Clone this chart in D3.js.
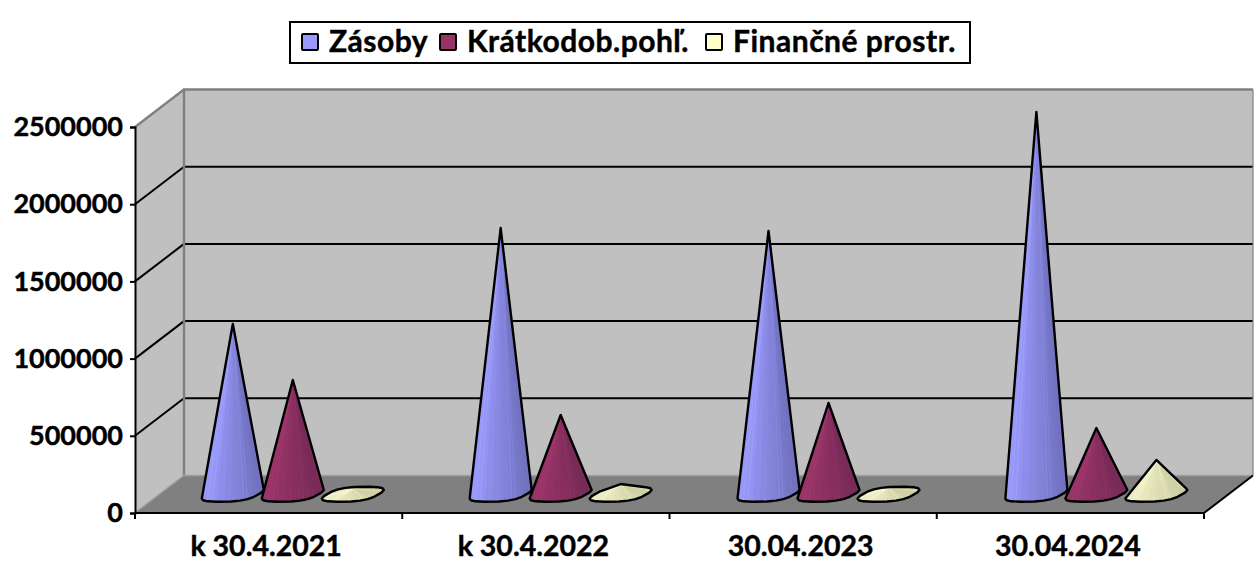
<!DOCTYPE html>
<html><head><meta charset="utf-8">
<script src="https://cdnjs.cloudflare.com/ajax/libs/d3/7.8.5/d3.min.js"></script>
<style>html,body{margin:0;padding:0;background:#fff}svg{display:block}text{font-family:Lato,"Open Sans",sans-serif;font-weight:700;fill:#000;stroke:#000;stroke-width:0.45px}</style>
</head><body><svg id="c" width="1258" height="563"></svg>
<script>
const categories=["k 30.4.2021","k 30.4.2022","30.04.2023","30.04.2024"];
const seriesNames=["Zásoby","Krátkodob.pohľ.","Finančné prostr."];
const zasoby=[1103000,1724000,1705000,2476000];
const kratkodob=[740000,513000,591000,429000];
const financne=[30000,66000,40000,222000];
const yTicks=[0,500000,1000000,1500000,2000000,2500000];
const seriesValues=[zasoby,kratkodob,financne];
const colors=[["#9c9cff","#6f6fbb"],["#9c3569","#752a55"],["#f2f2c8","#cdcda4"]];
const swatch=["#9999ff","#993366","#ffffcc"];

const L=135,R=1204,T=127,B=513,dx=49,dy=-37.5;
const svg=d3.select("#c");
const y=d3.scaleLinear().domain([0,2500000]).range([B,T]);
const x=d3.scaleBand().domain(categories).range([L,R]);
const poly=(g,pts,fill)=>g.append("polygon").attr("points",pts.map(p=>p.join(",")).join(" ")).attr("fill",fill);
const line=(g,a,b,c,w)=>g.append("line").attr("x1",a[0]).attr("y1",a[1]).attr("x2",b[0]).attr("y2",b[1]).attr("stroke",c).attr("stroke-width",w);

const walls=svg.append("g");
poly(walls,[[L,B],[L+dx,B+dy],[L+dx,T+dy],[L,T]],"#c0c0c0");
poly(walls,[[L+dx,B+dy],[R+dx,B+dy],[R+dx,T+dy],[L+dx,T+dy]],"#c0c0c0");
poly(walls,[[L,B],[L+dx,B+dy],[R+dx,B+dy],[R,B]],"#808080");
yTicks.slice(1,-1).forEach(v=>{
  line(walls,[L,y(v)],[L+dx,y(v)+dy],"#000",2);
  line(walls,[L+dx,y(v)+dy],[R+dx,y(v)+dy],"#000",2);
});
const gray="#808080";
line(walls,[L,T],[L+dx,T+dy],gray,2.4);
line(walls,[L+dx-1,T+dy],[R+dx,T+dy],gray,2.4);
line(walls,[L+dx,T+dy],[L+dx,B+dy],gray,2.4);
line(walls,[R+dx,T+dy],[R+dx,B+dy],gray,1.2);
line(walls,[L+dx,B+dy],[R+dx,B+dy],"#a0a0a0",1.5);
line(walls,[L,B],[L+dx,B+dy],"#9a9a9a",1.5);
line(walls,[R,B],[R+dx,B+dy],"#000",2);

const cones=svg.append("g");
const N=18,step=60,a=26,d=12.5,h=7.5,pw=0.72;
const sp=v=>Math.sign(v)*Math.pow(Math.abs(v),pw);
categories.forEach((cat,ci)=>{
  seriesValues.forEach((vals,si)=>{
    const cx=x(cat)+x.bandwidth()/2+dx/2+(si-1)*step+ci*0.6-0.3;
    const cy=y(0)+dy/2;
    const apex=[cx,y(vals[ci])+dy/2];
    const base=d3.range(N).map(i=>{
      const t=i/N*2*Math.PI+0.12;
      const c=sp(Math.cos(t)),s=sp(Math.sin(t));
      return [cx+a*c+d*s, cy-h*s];
    });
    const sub=d3.range(N*2).map(i=>{
      const k=Math.floor(i/2);
      const pt=q=>{const s=(q/(N*2)),p=s*N,f=Math.floor(p)%N,g=(f+1)%N,u=p-Math.floor(p);
        return [base[f][0]+(base[g][0]-base[f][0])*u, base[f][1]+(base[g][1]-base[f][1])*u];};
      const p0=pt(i),p1=pt(i+1);
      const lit=(p0[0]+p1[0]-2*cx)/2/62+0.5;
      return {pts:[apex,p0,p1],my:(p0[1]+p1[1])/2,lit,k};
    }).sort((m,n)=>m.my-n.my);
    const mix=d3.interpolateRgb(colors[si][0],colors[si][1]);
    const gc=cones.append("g");
    sub.forEach(f=>{
      const c=mix(Math.max(0,Math.min(1,f.lit)));
      poly(gc,f.pts,c).attr("stroke",f.k%3===0?d3.color(c).brighter(0.35):c).attr("stroke-width",0.5);
    });
    const hull=d3.polygonHull(base.concat([apex]));
    gc.append("path").attr("d","M"+hull.join("L")+"Z").attr("fill","none").attr("stroke","#000").attr("stroke-width",2.4).attr("stroke-linejoin","round");
  });
});

const yAxis=svg.append("g").attr("transform",`translate(${L},0)`)
  .call(d3.axisLeft(y).tickValues(yTicks).tickFormat(d3.format("d")).tickSize(5).tickPadding(7));
const xAxis=svg.append("g").attr("transform",`translate(0,${B})`)
  .call(d3.axisBottom(x).tickSize(6).tickPadding(17));
[yAxis,xAxis].forEach(g=>{g.selectAll("path,line").attr("stroke","#000").attr("stroke-width",2);
  g.selectAll("text").style("font-family","Lato").style("font-weight",700).attr("fill","#000");});
yAxis.selectAll("text").style("font-size","27px");
xAxis.selectAll("text").style("font-size","28.5px").attr("dx",-2.5);
xAxis.select(".domain").attr("d",`M${L},0H${R}`);
xAxis.selectAll(".tick line").attr("transform",`translate(${x.bandwidth()/2},0)`);
xAxis.append("line").attr("x1",L).attr("x2",L).attr("y1",0).attr("y2",6).attr("stroke","#000").attr("stroke-width",2);

const leg=svg.append("g");
leg.append("rect").attr("x",290).attr("y",22).attr("width",680).attr("height",41).attr("fill","#fff").attr("stroke","#000").attr("stroke-width",2);
const legX=[302,440,706];
seriesNames.forEach((n,i)=>{
  leg.append("rect").attr("x",legX[i]).attr("y",34).attr("width",16).attr("height",16).attr("fill",swatch[i]).attr("stroke","#000").attr("stroke-width",2).attr("rx",1);
  leg.append("text").attr("x",legX[i]+27).attr("y",52).style("font-size","30px").style("letter-spacing","0.5px").text(n);
});
</script></body></html>
